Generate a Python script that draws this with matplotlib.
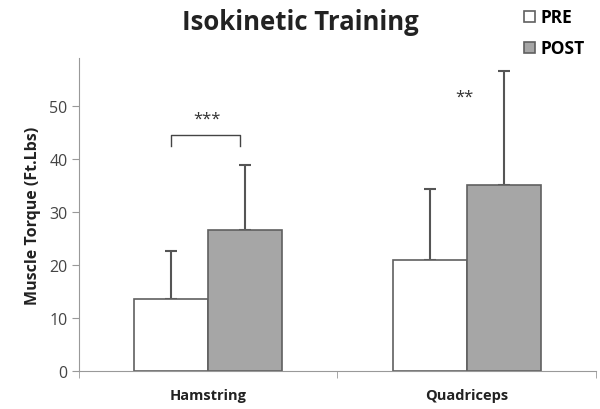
import matplotlib.pyplot as plt
import numpy as np

muscles = ['Hamstring', 'Quadriceps']
pre_mean = [13.6, 20.9]
pre_sd = [9.0, 13.4]
post_mean = [26.6, 35.0]
post_sd = [12.3, 21.6]
stars = ['***', '**']

plt.rcParams['font.family'] = ['Open Sans', 'DejaVu Sans']

fig = plt.figure(figsize=(6, 4.1), dpi=100)
ax = fig.add_axes([0.132, 0.093, 0.861, 0.763])

x = np.arange(len(muscles))
w = 0.287
edge = '#606060'
ax.bar(x - w / 2, pre_mean, w, color='white', edgecolor=edge, linewidth=1.2, label='PRE', zorder=2)
ax.bar(x + w / 2, post_mean, w, color='#a6a6a6', edgecolor=edge, linewidth=1.2, label='POST', zorder=2)
err = dict(fmt='none', ecolor='#555555', elinewidth=1.5, capsize=4, capthick=1.5, zorder=1)
ax.errorbar(x - w / 2, pre_mean, yerr=[np.zeros(2), pre_sd], **err)
ax.errorbar(x + w / 2, post_mean, yerr=[np.zeros(2), post_sd], **err)

# significance marks
bx0, bx1 = x[0] - w / 2, x[0] + w / 2 - 0.02
ax.plot([bx0, bx0, bx1, bx1], [42.5, 44.5, 44.5, 42.5], color='#444444', lw=1.0)
ax.text(x[0] - 0.005, 47.5, stars[0], ha='center', va='center', fontsize=12, color='#333333')
ax.text(x[1] - 0.01, 51.8, stars[1], ha='center', va='center', fontsize=12, color='#333333')

ax.set_xlim(-0.5, 1.5)
ax.set_ylim(0, 59)
ax.set_yticks(range(0, 60, 10))
ax.set_xticks(x)
ax.set_xticklabels(muscles, fontsize=10.5, fontweight='bold', color='#222222')
ax.set_xticks([-0.5, 0.5, 1.5], minor=True)
ax.tick_params(axis='x', which='major', length=0, pad=12)
ax.tick_params(axis='x', which='minor', length=5, color='#999999')
ax.tick_params(axis='y', length=5, color='#999999', labelsize=11.5, labelcolor='#444444')
for s in ['top', 'right']:
    ax.spines[s].set_visible(False)
for s in ['left', 'bottom']:
    ax.spines[s].set_color('#999999')
ax.set_ylabel('Muscle Torque (Ft.Lbs)', fontsize=11.5, fontweight='bold', color='#222222', labelpad=6)

fig.text(0.5, 0.944, 'Isokinetic Training', ha='center', va='center', fontsize=18.5, fontweight='bold', color='#222222')
ax.legend(loc='upper left', bbox_to_anchor=(0.874, 0.977), bbox_transform=fig.transFigure,
          frameon=False, borderpad=0, borderaxespad=0,
          handlelength=0.6, handleheight=0.6, handletextpad=0.3, labelspacing=0.75,
          prop={'weight': 'bold', 'size': 12.5})

fig.savefig('out.png')
